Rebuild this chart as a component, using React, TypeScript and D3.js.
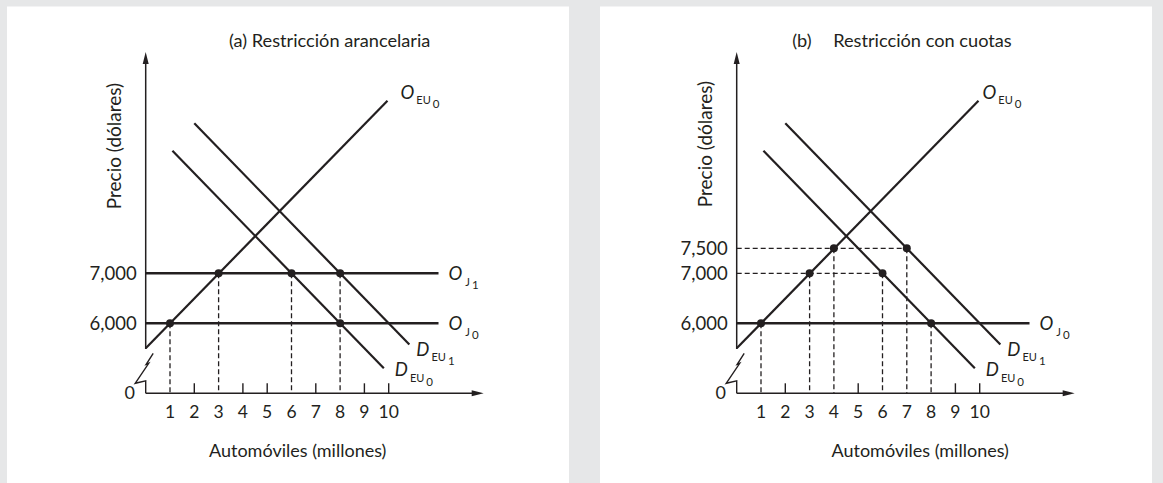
import React from "react";
import * as d3 from "d3";

// ---- data ----
const qTicks = [1, 2, 3, 4, 5, 6, 7, 8, 9, 10];

// curves: end points (quantity in millions, price in dollars)
const supplyEU0 = [
  { q: 0, p: 5500 },
  { q: 9.95, p: 10450 },
];
const demandEU0 = [
  { q: 1.1, p: 9450 },
  { q: 9.8, p: 5100 },
];
const demandEU1 = [
  { q: 2.0, p: 10000 },
  { q: 10.85, p: 5575 },
];
const japanEnd = 12.05;

// panel (a) tariff
const pricesA = [6000, 7000];
const japanA = [
  { p: 6000, idx: "0" },
  { p: 7000, idx: "1" },
];
const dotsA = [
  { q: 1, p: 6000 },
  { q: 3, p: 7000 },
  { q: 6, p: 7000 },
  { q: 8, p: 7000 },
  { q: 8, p: 6000 },
];
const dropsA = [
  { q: 1, p: 6000 },
  { q: 3, p: 7000 },
  { q: 6, p: 7000 },
  { q: 8, p: 7000 },
];
const guidesA: { q: number; p: number }[] = [];

// panel (b) quota
const pricesB = [6000, 7000, 7500];
const japanB = [{ p: 6000, idx: "0" }];
const dotsB = [
  { q: 1, p: 6000 },
  { q: 3, p: 7000 },
  { q: 4, p: 7500 },
  { q: 6, p: 7000 },
  { q: 7, p: 7500 },
  { q: 8, p: 6000 },
];
const dropsB = dotsB;
const guidesB = [
  { q: 6, p: 7000 },
  { q: 7, p: 7500 },
];

const ink = "#231f20";
const font = "Lato, 'Open Sans', sans-serif";

const x = d3.scaleLinear().domain([0, 10]).range([0, 243]);
const y = d3.scaleLinear().domain([4600, 10500]).range([393.3, 98.3]);
const line = d3
  .line<{ q: number; p: number }>()
  .x((d) => x(d.q))
  .y((d) => y(d.p));
const fmt = d3.format(",");

function CurveLabel({ px, py, main, sub, idx, subDy = 5.5 }: any) {
  return (
    <text x={px} y={py} fill={ink} fontFamily={font}>
      <tspan fontStyle="italic" fontSize={18.5}>
        {main}
      </tspan>
      <tspan fontSize={11} dx={2} dy={subDy}>
        {sub}
      </tspan>
      <tspan fontSize={11.5} dx={2} dy={4}>
        {idx}
      </tspan>
    </text>
  );
}

function Panel({ ox, prices, japan, dots, drops, guides, oLabelDx, title, xLabelX, yLabelY }: any) {
  const axisY = y(4600);
  const solidTicks = qTicks.filter((q) => !drops.some((d: any) => d.q === q));
  const sEnd = supplyEU0[1];
  const d0End = demandEU0[1];
  const d1End = demandEU1[1];
  return (
    <g transform={`translate(${ox},0)`}>
      {title}
      {/* axes */}
      <line x1={0} x2={0} y1={58} y2={349} stroke={ink} strokeWidth={1.5} />
      <path d="M0,52 L-3,64 L3,64 Z" fill={ink} />
      <path
        d={`M7.5,${axisY - 40} L0.5,${axisY - 29} L3,${axisY - 30} L-10.5,${axisY - 10} L0,${axisY - 12.5} L0,${axisY}`}
        fill="none"
        stroke={ink}
        strokeWidth={1.4}
      />
      <line x1={0} x2={333} y1={axisY} y2={axisY} stroke={ink} strokeWidth={1.5} />
      <path d={`M338,${axisY} L326,${axisY - 3} L326,${axisY + 3} Z`} fill={ink} />
      {solidTicks.map((q: number) => (
        <line key={q} x1={x(q)} x2={x(q)} y1={axisY} y2={axisY - 10} stroke={ink} strokeWidth={1.4} />
      ))}
      {qTicks.map((q) => (
        <text key={q} x={x(q)} y={417.5} textAnchor="middle" fontSize={17.5} fontFamily={font} fill={ink}>
          {q}
        </text>
      ))}
      <text x={-16} y={399.3} textAnchor="middle" fontSize={18} fontFamily={font} fill={ink}>
        0
      </text>
      {prices.map((p: number) => (
        <text key={p} x={-9} y={y(p)} dy="0.36em" textAnchor="end" fontSize={18.5} fontFamily={font} fill={ink}>
          {fmt(p)}
        </text>
      ))}
      {/* dashed guides */}
      {drops.map((d: any, i: number) => (
        <line key={"v" + i} x1={x(d.q)} x2={x(d.q)} y1={y(d.p)} y2={axisY} stroke={ink} strokeWidth={1.3} strokeDasharray="5 3" />
      ))}
      {guides.map((d: any, i: number) => (
        <line key={"h" + i} x1={0} x2={x(d.q)} y1={y(d.p)} y2={y(d.p)} stroke={ink} strokeWidth={1.3} strokeDasharray="5 3" />
      ))}
      {/* Japanese supply */}
      {japan.map((j: any) => (
        <g key={j.p}>
          <line x1={0} x2={x(japanEnd)} y1={y(j.p)} y2={y(j.p)} stroke={ink} strokeWidth={2.6} />
          <text x={x(japanEnd) + 10} y={y(j.p) + 6.5} fill={ink} fontFamily={font}>
            <tspan fontStyle="italic" fontSize={18.5}>
              O
            </tspan>
            <tspan fontSize={11} dx={3} dy={6}>
              J
            </tspan>
            <tspan fontSize={11.5} dx={2} dy={3}>
              {j.idx}
            </tspan>
          </text>
        </g>
      ))}
      {/* US curves */}
      <path d={line(supplyEU0) as string} stroke={ink} strokeWidth={2.2} fill="none" />
      <path d={line(demandEU0) as string} stroke={ink} strokeWidth={2.2} fill="none" />
      <path d={line(demandEU1) as string} stroke={ink} strokeWidth={2.2} fill="none" />
      {dots.map((d: any, i: number) => (
        <circle key={i} cx={x(d.q)} cy={y(d.p)} r={4} fill={ink} />
      ))}
      <CurveLabel px={x(sEnd.q) + oLabelDx} py={y(sEnd.p) - 2} main="O" sub="EU" idx="0" />
      <CurveLabel px={x(d1End.q) + 7} py={y(d1End.p) + 11} main="D" sub="EU" idx="1" />
      <CurveLabel px={x(d0End.q) + 11} py={y(d0End.p) + 8} main="D" sub="EU" idx="0" />
      {/* axis titles */}
      <text x={xLabelX} y={457.3} textAnchor="middle" fontSize={18} fontFamily={font} fill={ink}>
        Automóviles (millones)
      </text>
      <text transform={`translate(-24.7,${yLabelY}) rotate(-90)`} textAnchor="middle" fontSize={19} fontFamily={font} fill={ink}>
        Precio (dólares)
      </text>
    </g>
  );
}

export default function App() {
  return (
    <svg width={1163} height={483} style={{ position: "absolute", left: 0, top: 0 }}>
      <rect width={1163} height={483} fill="#e6e7e8" />
      <rect x={7} y={6.5} width={562} height={477} fill="#ffffff" />
      <rect x={600} y={6.5} width={552} height={477} fill="#ffffff" />
      <Panel
        ox={145.7}
        prices={pricesA}
        japan={japanA}
        dots={dotsA}
        drops={dropsA}
        guides={guidesA}
        oLabelDx={13}
        xLabelX={152}
        yLabelY={146}
        title={
          <text x={184} y={47.3} textAnchor="middle" fontSize={18.2} fontFamily={font} fill={ink}>
            (a) Restricción arancelaria
          </text>
        }
      />
      <Panel
        ox={736.7}
        prices={pricesB}
        japan={japanB}
        dots={dotsB}
        drops={dropsB}
        guides={guidesB}
        oLabelDx={4}
        xLabelX={183.5}
        yLabelY={144}
        title={
          <g fontSize={18.2} fontFamily={font} fill={ink}>
            <text x={55.5} y={46.5}>(b)</text>
            <text x={96.5} y={46.5}>Restricción con cuotas</text>
          </g>
        }
      />
    </svg>
  );
}
